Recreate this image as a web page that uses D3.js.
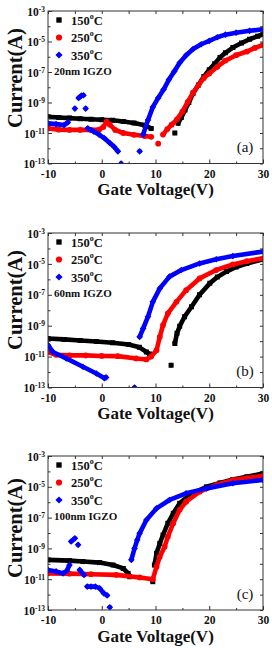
<!DOCTYPE html>
<html><head><meta charset="utf-8">
<script src="https://cdn.jsdelivr.net/npm/d3@7"></script>
<style>
html,body{margin:0;padding:0;background:#fff;}
svg{display:block;font-family:"Liberation Serif","Times New Roman",serif;}
</style></head><body>
<svg id="chart" width="272" height="648"></svg>
<script>
// ---------- data ----------
const voltageTicks = [-10, 0, 10, 20, 30];
const voltageMinor = [-5, 5, 15, 25];
const currentTicks = [1e-3, 1e-5, 1e-7, 1e-9, 1e-11, 1e-13];
const currentTickExp = ["-3", "-5", "-7", "-9", "-11", "-13"];
const currentMinor = [1e-4, 1e-6, 1e-8, 1e-10, 1e-12];
const seriesNames = ["150", "250", "350"];
const panelLabels = ["(a)", "(b)", "(c)"];
const thicknessLabels = ["20nm IGZO", "60nm IGZO", "100nm IGZO"];
const xTitle = "Gate Voltage(V)";
const yTitle = "Current(A)";

// [gate voltage (V), drain current (A)]; null = gap between measured groups
const a150 = [[-10,1.15e-10],[-8,1.05e-10],[-6,9.5e-11],[-4,8.7e-11],[-2,7.9e-11],[0,7.4e-11],[2,6.8e-11],[4,5.6e-11],[6,4.5e-11],[8,3.2e-11],[9.2,2.0e-11],null,[13.6,1.0e-11],null,[14.2,4.3e-11],[14.8,1.05e-10],[15.5,3.2e-10],[16.2,1e-9],[17,4e-9],[18,1.4e-8],[19,5e-8],[20,1.4e-7],[21,3.5e-7],[22,8.9e-7],[23,1.8e-6],[24.4,4e-6],[26,7.9e-6],[27.5,1.4e-5],[29,2.2e-5],[30,3e-5]];
const a250 = [[-10,2.0e-11],[-8,1.66e-11],[-6,1.6e-11],[-4,1.6e-11],[-2,1.6e-11],[-0.5,1.66e-11],[0.3,2.5e-11],[0.9,5.6e-11],[1.5,3.5e-11],[2.5,1.6e-11],[4,1.0e-11],[6,7.6e-12],[8,6.3e-12],[9.2,5.6e-12],null,[10.5,2.0e-12],null,[11.4,7.9e-12],[12.2,1.8e-11],[13,3.5e-11],[14,7.9e-11],[15,2.5e-10],[16,1.1e-9],[17,4.5e-9],[18,1.4e-8],[19,4e-8],[20,7.9e-8],[21.5,2.2e-7],[23,5.6e-7],[25,1.26e-6],[27,2.2e-6],[28.5,3.8e-6],[30,5.9e-6]];
const a350 = [[-10,4.3e-11],[-8.5,3.8e-11],[-7,3.3e-11],[-6.3,5e-11],null,[-5.0,4e-10],null,[-4.3,2e-9],[-3.8,2.8e-9],[-3.4,3e-9],null,[-3.0,4e-10],null,[-2.6,2e-11],[-1.5,1.26e-11],[-0.5,7.9e-12],[0.5,4.5e-12],[1.5,2.2e-12],[2.3,1.26e-12],[3.0,6.3e-13],null,[3.6,1e-13],null,[7.05,6.3e-13],null,[7.7,7.9e-12],[8.6,7e-11],[9.5,5e-10],[10.5,2e-9],[11.5,7e-9],[12.5,3.2e-8],[13.5,1.1e-7],[14.5,4e-7],[15.7,1.26e-6],[17,3.2e-6],[18.5,6.6e-6],[20,1.1e-5],[21.5,1.9e-5],[23,2.8e-5],[25,3.8e-5],[27.5,5e-5],[30,6.3e-5]];

const b150 = [[-10,1.5e-10],[-7,1.3e-10],[-4,1.1e-10],[-1,9.5e-11],[2,7.9e-11],[5,6e-11],[7,4e-11],[8.3,2e-11],[8.9,1.45e-11],null,[12.9,2.8e-12],null,[13.6,7e-11],[14.0,3.2e-10],[14.5,9.3e-10],[15.4,3.8e-9],[16.7,1.7e-8],[18.2,1e-7],[20.1,5.5e-7],[21.5,1.4e-6],[23.2,3.2e-6],[25,6.3e-6],[27,1.07e-5],[30,2e-5]];
const b250 = [[-10,2e-11],[-8.5,1.3e-11],[-6,1.2e-11],[-3,1.2e-11],[0,1.1e-11],[3,1.07e-11],[6.4,7.6e-12],[8.3,6.5e-12],[9.2,1e-11],[10.2,2.6e-11],[10.8,1.9e-10],[11.4,1.1e-9],[12.3,6.3e-9],[13.9,3.5e-8],[15.7,2e-7],[18.2,1.15e-6],[21.3,4e-6],[24.4,9.3e-6],[27,1.5e-5],[30,2.3e-5]];
const b350 = [[-10,5.5e-11],[-9.1,2e-11],[-6.6,7.6e-12],[-3.5,2.2e-12],[-1.0,8.1e-13],[0.5,4e-13],[0.8,4.5e-13],null,[6.1,1e-13],null,[7.05,1.9e-10],[7.7,6.6e-10],[8.6,3.8e-9],[9.5,3.5e-8],[10.8,2.6e-7],[12.6,1.5e-6],[14.8,4e-6],[18.2,1.07e-5],[21.3,2e-5],[24.4,3.2e-5],[30,6.3e-5]];

const c150 = [[-10,1.8e-10],[-6,1.6e-10],[-3.5,1.4e-10],[-0.4,1.2e-10],[2.1,8.3e-11],[4.0,5e-11],[4.9,2.4e-11],[5.2,1.45e-11],null,[9.5,6.9e-12],null,[9.8,8.3e-11],[10.2,4.8e-10],[10.8,2.1e-9],[11.4,7.4e-9],[12.3,4.3e-8],[13.3,1.9e-7],[14.5,8.5e-7],[16.4,3e-6],[19.5,1e-5],[22,1.8e-5],[24.4,3e-5],[27,4.5e-5],[30,7.4e-5]];
const c250 = [[-10,2.4e-11],[-6,2.3e-11],[-2,2.1e-11],[2.7,1.9e-11],[7.05,1.3e-11],[9.5,1e-11],[10.2,6.5e-11],[10.8,2.9e-10],[11.7,1.3e-9],[12.3,5.8e-9],[13.3,4.3e-8],[14.5,3.2e-7],[15.7,1.07e-6],[18.2,4.8e-6],[21.3,1.3e-5],[24.4,2.8e-5],[27,3.7e-5],[30,5e-5]];
const c350 = [[-10,4e-11],[-8.5,3.2e-11],[-7.2,2.4e-11],[-6.5,3.5e-11],[-6.0,8.3e-11],null,[-5.7,2.8e-9],[-5.0,4.5e-9],null,[-4.4,1.7e-9],null,[-4.1,4e-11],[-3.3,1.9e-11],null,[-2.7,3.3e-12],[-2.0,3.3e-12],[-1.2,3.3e-12],[-0.4,2.6e-12],[0.4,1.2e-12],[1.0,8.9e-13],null,[1.5,1.5e-13],null,[5.5,1.8e-10],[6.1,1e-9],[6.6,3.5e-9],[7.05,9.5e-9],[8.3,6.9e-8],[10.2,4e-7],[12.6,1.4e-6],[15.7,3.8e-6],[19.5,7.9e-6],[24.4,1.7e-5],[30,2.8e-5]];

const panelSeries = [[a150, a250, a350], [b150, b250, b350], [c150, c250, c350]];

// ---------- layout / style ----------
const colors = ["#000000", "#ff0000", "#0000ff"];
const left = 48, right = 263;
const layout = [
  {top: 11,  bottom: 163.5, yTitleC: 78},
  {top: 233, bottom: 387.5, yTitleC: 300},
  {top: 456, bottom: 610,   yTitleC: 528}
];

const svg = d3.select("#chart");
const font = '"Liberation Serif","Times New Roman",serif';

function marker(g, k, cx, cy, scale) {
  const s = scale || 1;
  if (k === 0) {
    g.append("path").attr("d", d3.symbol(d3.symbolSquare, 25 * s)())
      .attr("transform", `translate(${cx},${cy})`).attr("fill", colors[k]);
  } else if (k === 1) {
    g.append("path").attr("d", d3.symbol(d3.symbolCircle, 26 * s)())
      .attr("transform", `translate(${cx},${cy})`).attr("fill", colors[k]);
  } else {
    g.append("path").attr("d", d3.symbol(d3.symbolSquare, 22 * s)())
      .attr("transform", `translate(${cx},${cy}) rotate(45)`).attr("fill", colors[k]);
  }
}

layout.forEach((L, p) => {
  const x = d3.scaleLinear().domain([-10, 30]).range([left, right]);
  const y = d3.scaleLog().domain([1e-13, 1e-3]).range([L.bottom, L.top]);
  const g = svg.append("g");

  const clipId = "clip" + p;
  g.append("clipPath").attr("id", clipId).append("rect")
    .attr("x", left).attr("y", L.top).attr("width", right - left).attr("height", L.bottom - L.top);

  // data
  const plot = g.append("g").attr("clip-path", `url(#${clipId})`);
  panelSeries[p].forEach((data, k) => {
    const line = d3.line().defined(d => d !== null).x(d => x(d[0])).y(d => y(d[1]));
    plot.append("path").datum(data).attr("d", line)
      .attr("fill", "none").attr("stroke", colors[k]).attr("stroke-width", 4.6)
      .attr("stroke-linejoin", "round").attr("stroke-linecap", "round");
    data.filter(d => d !== null).forEach(d => marker(plot, k, x(d[0]), y(d[1])));
  });

  // axes
  const axB = g.append("g").attr("transform", `translate(0,${L.bottom})`)
    .call(d3.axisBottom(x).tickValues(voltageTicks).tickSize(-4).tickSizeOuter(0).tickPadding(6.3).tickFormat(d => String(d)));
  axB.select(".domain").remove();
  axB.selectAll("text").attr("font-family", font).attr("font-weight", "bold").attr("font-size", 11.5).attr("fill", "#111");
  const axBm = g.append("g").attr("transform", `translate(0,${L.bottom})`)
    .call(d3.axisBottom(x).tickValues(voltageMinor).tickSize(-2).tickSizeOuter(0).tickFormat(""));
  axBm.select(".domain").remove();
  const axT = g.append("g").attr("transform", `translate(0,${L.top})`)
    .call(d3.axisTop(x).tickValues(voltageTicks.concat(voltageMinor)).tickSize(-3).tickSizeOuter(0).tickFormat(""));
  axT.select(".domain").remove();

  const axL = g.append("g").attr("transform", `translate(${left},0)`)
    .call(d3.axisLeft(y).tickValues(currentTicks).tickSize(-4).tickSizeOuter(0).tickPadding(3).tickFormat(""));
  axL.select(".domain").remove();
  axL.selectAll(".tick").each(function(d, i) {
    const t = d3.select(this).select("text");
    t.text(null).attr("font-family", font).attr("font-weight", "bold").attr("font-size", 11.5)
      .attr("fill", "#111").attr("dy", "0.36em");
    t.append("tspan").text("10");
    t.append("tspan").attr("font-size", 7.5).attr("dy", "-0.55em").text(currentTickExp[i]);
  });
  const axLm = g.append("g").attr("transform", `translate(${left},0)`)
    .call(d3.axisLeft(y).tickValues(currentMinor).tickSize(-2.5).tickSizeOuter(0).tickFormat(""));
  axLm.select(".domain").remove();
  const axR = g.append("g").attr("transform", `translate(${right},0)`)
    .call(d3.axisRight(y).tickValues(currentTicks.concat(currentMinor)).tickSize(-3).tickSizeOuter(0).tickFormat(""));
  axR.select(".domain").remove();
  g.selectAll(".tick line").attr("stroke", "#333");

  g.append("rect").attr("x", left).attr("y", L.top).attr("width", right - left).attr("height", L.bottom - L.top)
    .attr("fill", "none").attr("stroke", "#333").attr("stroke-width", 1);

  // titles
  g.append("text").attr("x", (left + right) / 2).attr("y", L.bottom + 31.5)
    .attr("text-anchor", "middle").attr("font-weight", "bold").attr("font-size", 17).attr("fill", "#111").text(xTitle);
  g.append("text").attr("transform", `translate(22,${L.yTitleC}) rotate(-90)`)
    .attr("text-anchor", "middle").attr("font-weight", "bold").attr("font-size", 20.5).attr("fill", "#111").text(yTitle);

  // legend
  seriesNames.forEach((name, k) => {
    const ly = L.top + 9 + k * 17.5;
    marker(g, k, left + 11, ly, 1.15);
    const t = g.append("text").attr("x", left + 23).attr("y", ly + 4.5)
      .attr("font-weight", "bold").attr("font-size", 12.5).attr("fill", "#111");
    t.append("tspan").text(name);
    t.append("tspan").attr("font-size", 8).attr("dy", "-0.75em").text("o");
    t.append("tspan").attr("dy", "0.48em").text("C");
  });
  g.append("text").attr("x", left + 6).attr("y", L.top + 64)
    .attr("font-weight", "bold").attr("font-size", 11).attr("fill", "#111").text(thicknessLabels[p]);

  g.append("text").attr("x", 245).attr("y", L.bottom - 11.5).attr("text-anchor", "middle")
    .attr("font-size", 15).attr("fill", "#111").text(panelLabels[p]);
});
</script>
</body></html>
